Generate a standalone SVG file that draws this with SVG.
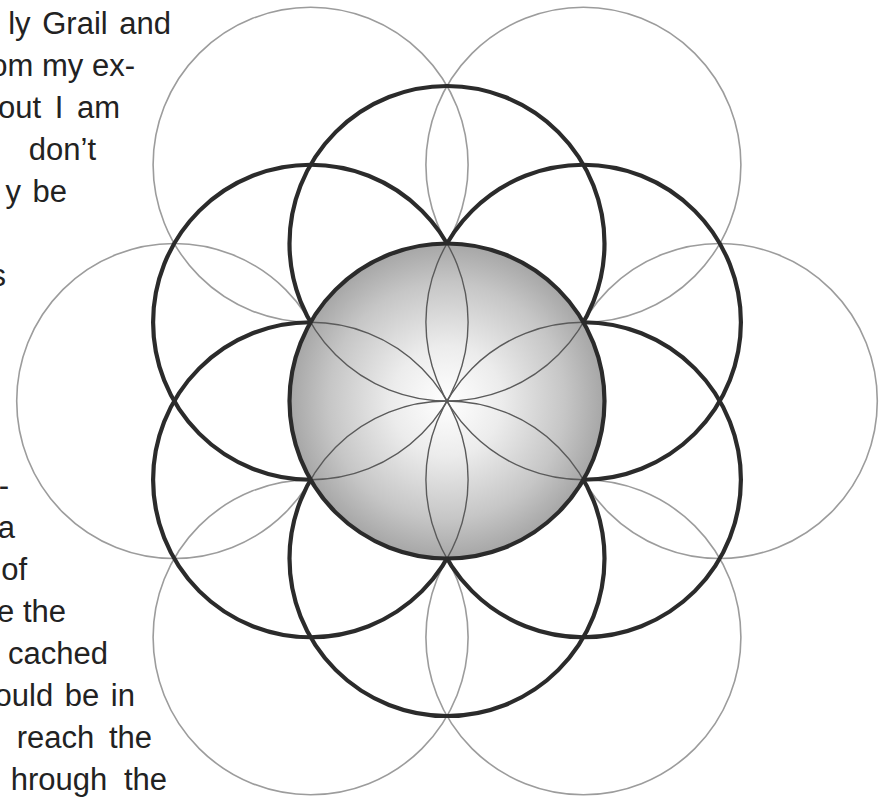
<svg xmlns="http://www.w3.org/2000/svg" width="882" height="798" viewBox="0 0 882 798">
  <style>
    .txt { font-family: "Liberation Sans", Arial, sans-serif; font-size: 31px; fill: #222; }
    .thin { fill: none; stroke: #9c9c9c; stroke-width: 1.6; }
    .thick { fill: none; stroke: #2b2b2b; stroke-width: 4.2; }
    .petal { fill: none; stroke: #5a5a5a; stroke-width: 1.4; }
  </style>
  <defs>
    <radialGradient id="coreGrad" cx="447" cy="401" r="157.5" gradientUnits="userSpaceOnUse">
      <stop offset="0" stop-color="#ffffff"/>
      <stop offset="0.35" stop-color="#ececec"/>
      <stop offset="0.75" stop-color="#c6c6c6"/>
      <stop offset="1" stop-color="#a6a6a6"/>
    </radialGradient>
    <clipPath id="coreClip">
      <circle cx="447" cy="401" r="157.5"/>
    </clipPath>
  </defs>
  <rect width="882" height="798" fill="#ffffff"/>

  <g id="text-upper" class="txt" text-anchor="end">
    <text x="171" y="34" word-spacing="3">ly Grail and</text>
    <text x="135" y="76">om my ex-</text>
    <text x="120" y="118" word-spacing="5">out I am</text>
    <text x="96" y="160">don’t</text>
    <text x="67" y="202" word-spacing="3">y be</text>
    <text x="6" y="286">s</text>
  </g>
  <g id="text-lower" class="txt" text-anchor="end">
    <text x="9" y="496">-</text>
    <text x="15" y="538">a</text>
    <text x="27" y="580">of</text>
    <text x="66" y="622">e the</text>
    <text x="108" y="664">cached</text>
    <text x="135" y="706" word-spacing="3">ould be in</text>
    <text x="152" y="748" word-spacing="6">reach the</text>
    <text x="167" y="790" word-spacing="8">hrough the</text>
  </g>

  <g id="outer-thin-circles">
    <circle id="thin-right" class="thin" cx="719.8" cy="401" r="157.5"/>
    <circle id="thin-upper-right" class="thin" cx="583.4" cy="164.75" r="157.5"/>
    <circle id="thin-upper-left" class="thin" cx="310.6" cy="164.75" r="157.5"/>
    <circle id="thin-left" class="thin" cx="174.2" cy="401" r="157.5"/>
    <circle id="thin-lower-left" class="thin" cx="310.6" cy="637.25" r="157.5"/>
    <circle id="thin-lower-right" class="thin" cx="583.4" cy="637.25" r="157.5"/>
  </g>

  <g id="seed-thick-circles">
    <circle id="thick-top" class="thick" cx="447" cy="243.5" r="157.5"/>
    <circle id="thick-upper-right" class="thick" cx="583.4" cy="322.25" r="157.5"/>
    <circle id="thick-lower-right" class="thick" cx="583.4" cy="479.75" r="157.5"/>
    <circle id="thick-bottom" class="thick" cx="447" cy="558.5" r="157.5"/>
    <circle id="thick-lower-left" class="thick" cx="310.6" cy="479.75" r="157.5"/>
    <circle id="thick-upper-left" class="thick" cx="310.6" cy="322.25" r="157.5"/>
  </g>

  <g id="core">
    <circle id="core-fill" cx="447" cy="401" r="157.5" fill="url(#coreGrad)"/>
    <g id="petals" clip-path="url(#coreClip)">
      <circle class="petal" cx="447" cy="243.5" r="157.5"/>
      <circle class="petal" cx="583.4" cy="322.25" r="157.5"/>
      <circle class="petal" cx="583.4" cy="479.75" r="157.5"/>
      <circle class="petal" cx="447" cy="558.5" r="157.5"/>
      <circle class="petal" cx="310.6" cy="479.75" r="157.5"/>
      <circle class="petal" cx="310.6" cy="322.25" r="157.5"/>
    </g>
    <circle id="core-ring" cx="447" cy="401" r="157.5" fill="none" stroke="#2b2b2b" stroke-width="4.2"/>
  </g>
</svg>
